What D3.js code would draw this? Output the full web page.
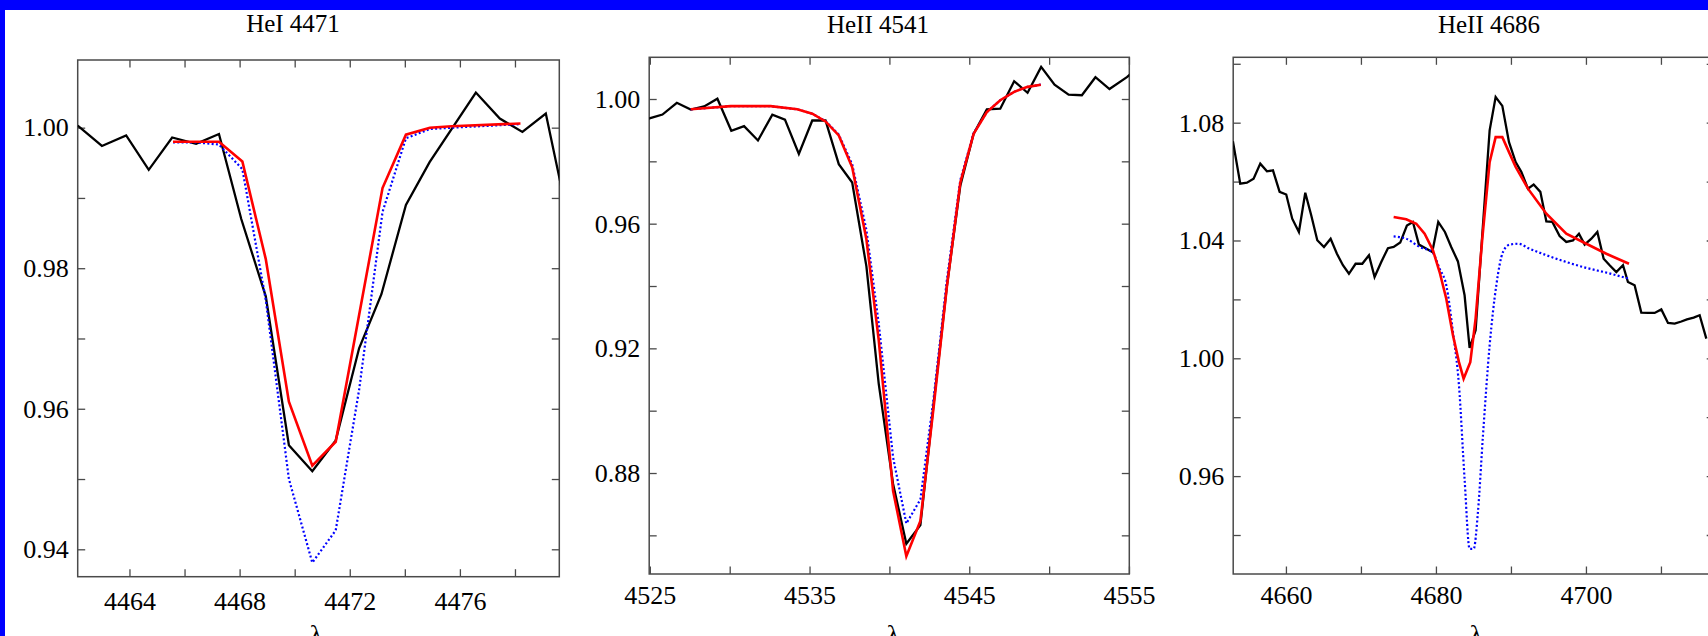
<!DOCTYPE html>
<html>
<head>
<meta charset="utf-8">
<script src="https://cdn.jsdelivr.net/npm/d3@7"></script>
<style>
  html, body { margin: 0; padding: 0; background: #0000ff; overflow: hidden; }
</style>
</head>
<body>
<div id="chart"></div>
<script>
// ---- data: [wavelength, normalised flux] ----
const titles = ['HeI 4471', 'HeII 4541', 'HeII 4686'];

const hei4471Observed = [
  [4462.12, 1.0003], [4463.00, 0.9974], [4463.88, 0.9989], [4464.70, 0.9940],
  [4465.55, 0.9986], [4466.42, 0.9977], [4467.25, 0.9991], [4468.06, 0.9870],
  [4468.95, 0.9760], [4469.79, 0.9548], [4470.64, 0.9511], [4471.49, 0.9555],
  [4472.34, 0.9686], [4473.15, 0.9763], [4474.04, 0.9890], [4474.90, 0.9951],
  [4476.58, 1.0050], [4477.45, 1.0013], [4478.27, 0.9994], [4479.12, 1.0020],
  [4479.80, 0.9894]
];
const hei4471Fit = [
  [4465.58, 0.9980], [4467.25, 0.9980], [4468.10, 0.9952], [4468.95, 0.9813],
  [4469.79, 0.9610], [4470.64, 0.9519], [4471.49, 0.9553], [4473.19, 0.9914],
  [4474.04, 0.9990], [4474.91, 1.0000], [4475.70, 1.0002], [4478.20, 1.0006]
];
const hei4471Model = [
  [4465.58, 0.9979], [4466.42, 0.9979], [4467.25, 0.9976], [4468.10, 0.9941],
  [4468.95, 0.9755], [4469.79, 0.9500], [4470.64, 0.9381], [4471.49, 0.9427],
  [4472.34, 0.9627], [4473.19, 0.9880], [4474.04, 0.9985], [4474.91, 0.9998],
  [4475.70, 1.0000], [4478.20, 1.0005]
];

const heii4541Observed = [
  [4524.92, 0.9937], [4525.79, 0.9950], [4526.69, 0.9988], [4527.56, 0.9966],
  [4528.40, 0.9976], [4529.23, 1.0001], [4530.10, 0.9898], [4530.90, 0.9913],
  [4531.77, 0.9867], [4532.67, 0.9950], [4533.46, 0.9934], [4534.33, 0.9824],
  [4535.17, 0.9931], [4536.00, 0.9931], [4536.83, 0.9791], [4537.67, 0.9732],
  [4538.56, 0.9463], [4539.33, 0.9087], [4540.23, 0.8765], [4541.06, 0.8573],
  [4541.94, 0.8633], [4542.77, 0.9023], [4543.60, 0.9400], [4544.44, 0.9722],
  [4545.27, 0.9888], [4546.10, 0.9967], [4546.94, 0.9969], [4547.81, 1.0057],
  [4548.65, 1.0020], [4549.50, 1.0103], [4550.34, 1.0046], [4551.22, 1.0014],
  [4552.05, 1.0012], [4552.90, 1.0070], [4553.78, 1.0032], [4554.87, 1.0070],
  [4555.20, 1.0085]
];
const heii4541Fit = [
  [4527.56, 0.9967], [4530.06, 0.9977], [4532.56, 0.9977], [4534.23, 0.9967],
  [4535.17, 0.9953], [4536.00, 0.9928], [4536.83, 0.9883], [4537.67, 0.9781],
  [4538.56, 0.9550], [4539.33, 0.9227], [4540.23, 0.8743], [4541.06, 0.8533],
  [4541.94, 0.8646], [4542.77, 0.9012], [4543.60, 0.9399], [4544.44, 0.9732],
  [4545.27, 0.9888], [4546.10, 0.9958], [4546.94, 0.9996], [4547.81, 1.0023],
  [4548.65, 1.0039], [4549.48, 1.0046]
];
const heii4541Model = [
  [4527.56, 0.9967], [4530.06, 0.9977], [4532.56, 0.9977], [4534.23, 0.9967],
  [4535.17, 0.9953], [4536.00, 0.9929], [4536.83, 0.9886], [4537.67, 0.9790],
  [4538.56, 0.9580], [4539.33, 0.9280], [4540.23, 0.8850], [4541.06, 0.8638],
  [4541.94, 0.8715], [4542.77, 0.9040], [4543.60, 0.9420], [4544.44, 0.9740],
  [4545.27, 0.9890], [4546.10, 0.9958], [4546.94, 0.9996], [4547.81, 1.0023],
  [4548.65, 1.0039], [4549.48, 1.0046]
];

const heii4686Observed = [
  [4652.93, 1.0737], [4653.91, 1.0593], [4654.80, 1.0596], [4655.69, 1.0610],
  [4656.58, 1.0661], [4657.47, 1.0635], [4658.27, 1.0638], [4659.16, 1.0565],
  [4660.04, 1.0556], [4660.84, 1.0474], [4661.73, 1.0429], [4662.58, 1.0562],
  [4663.38, 1.0485], [4664.18, 1.0401], [4665.07, 1.0378], [4665.96, 1.0406],
  [4666.80, 1.0355], [4667.60, 1.0316], [4668.40, 1.0287], [4669.29, 1.0321],
  [4670.18, 1.0321], [4671.07, 1.0350], [4671.82, 1.0276], [4672.71, 1.0327],
  [4673.60, 1.0374], [4674.36, 1.0378], [4675.24, 1.0393], [4676.13, 1.0451],
  [4676.93, 1.0463], [4677.73, 1.0386], [4678.62, 1.0374], [4679.51, 1.0361],
  [4680.31, 1.0463], [4681.20, 1.0429], [4682.04, 1.0378], [4682.93, 1.0329],
  [4683.82, 1.0214], [4684.49, 1.0035], [4685.29, 1.0095], [4686.18, 1.0420],
  [4687.16, 1.0774], [4687.96, 1.0887], [4688.85, 1.0857], [4689.74, 1.0734],
  [4690.63, 1.0666], [4691.38, 1.0633], [4692.27, 1.0576], [4693.03, 1.0590],
  [4693.92, 1.0565], [4694.72, 1.0465], [4695.52, 1.0463], [4696.49, 1.0415],
  [4697.38, 1.0395], [4698.27, 1.0400], [4699.07, 1.0423], [4699.83, 1.0386],
  [4700.72, 1.0406], [4701.52, 1.0429], [4702.36, 1.0338], [4703.16, 1.0316],
  [4704.05, 1.0293], [4704.94, 1.0316], [4705.60, 1.0259], [4706.49, 1.0248],
  [4707.38, 1.0155], [4708.27, 1.0154], [4709.16, 1.0154], [4710.05, 1.0166],
  [4710.94, 1.0120], [4711.83, 1.0118], [4712.72, 1.0125], [4713.47, 1.0132],
  [4714.36, 1.0138], [4715.16, 1.0146], [4716.05, 1.0067]
];
const heii4686Fit = [
  [4674.36, 1.0480], [4676.04, 1.0472], [4677.38, 1.0457], [4678.49, 1.0423],
  [4679.60, 1.0367], [4680.49, 1.0293], [4681.38, 1.0202], [4682.27, 1.0078],
  [4683.07, 0.9987], [4683.69, 0.9931], [4684.58, 0.9987], [4685.29, 1.0135],
  [4686.18, 1.0406], [4687.16, 1.0666], [4687.96, 1.0751], [4688.85, 1.0751],
  [4689.74, 1.0700], [4690.63, 1.0650], [4692.27, 1.0576], [4694.72, 1.0491],
  [4697.38, 1.0423], [4700.05, 1.0389], [4702.72, 1.0355], [4705.74, 1.0321]
];
const heii4686Model = [
  [4674.36, 1.0414], [4676.04, 1.0406], [4677.82, 1.0378], [4679.51, 1.0361],
  [4680.49, 1.0304], [4681.38, 1.0248], [4682.27, 1.0089], [4683.07, 0.9908],
  [4683.82, 0.9590], [4684.49, 0.9353], [4685.03, 0.9353], [4685.60, 0.9478],
  [4686.27, 0.9738], [4687.16, 1.0044], [4688.05, 1.0248], [4688.94, 1.0361],
  [4689.83, 1.0386], [4690.94, 1.0389], [4692.49, 1.0372], [4694.72, 1.0350],
  [4697.38, 1.0327], [4700.05, 1.0307], [4702.72, 1.0291], [4705.74, 1.0270]
];

// tick values
const hei4471XMajor = [4464, 4468, 4472, 4476];
const hei4471XMinor = [4466, 4470, 4474, 4478];
const hei4471YMajor = [0.94, 0.96, 0.98, 1.00];
const hei4471YMinor = [0.95, 0.97, 0.99];

const heii4541XMajor = [4525, 4535, 4545, 4555];
const heii4541XMinor = [4530, 4540, 4550];
const heii4541YMajor = [0.88, 0.92, 0.96, 1.00];
const heii4541YMinor = [0.86, 0.90, 0.94, 0.98];

const heii4686XMajor = [4660, 4680, 4700];
const heii4686XMinor = [4670, 4690, 4710];
const heii4686YMajor = [0.96, 1.00, 1.04, 1.08];
const heii4686YMinor = [0.94, 0.98, 1.02, 1.06, 1.10];

// ---- layout ----
const WIDTH = 1708;
const HEIGHT = 636;
const SERIF = '"Liberation Serif", "Times New Roman", Times, serif';
const TICK = 7.5;
const FRAME_COLOR = '#4a4a4a';

const panels = [
  { title: titles[0], titleX: 293, titleY: 32,
    left: 77.7, top: 60, width: 481.6, height: 516.7,
    xDomain: [4462.12, 4479.61], yDomain: [0.9361, 1.00963],
    xMajor: hei4471XMajor, xMinor: hei4471XMinor, yMajor: hei4471YMajor, yMinor: hei4471YMinor,
    labelBaseline: 33.3, lambdaX: 316, curve: d3.curveLinear,
    observed: hei4471Observed, fit: hei4471Fit, model: hei4471Model },
  { title: titles[1], titleX: 878, titleY: 33,
    left: 649.2, top: 57.3, width: 480.1, height: 516.7,
    xDomain: [4524.96, 4555.02], yDomain: [0.8476, 1.01338],
    xMajor: heii4541XMajor, xMinor: heii4541XMinor, yMajor: heii4541YMajor, yMinor: heii4541YMinor,
    labelBaseline: 30, lambdaX: 893, curve: d3.curveLinear,
    observed: heii4541Observed, fit: heii4541Fit, model: heii4541Model },
  { title: titles[2], titleX: 1489, titleY: 33,
    left: 1233.2, top: 57.3, width: 481, height: 516.7,
    xDomain: [4652.97, 4717.1], yDomain: [0.92676, 1.1022],
    xMajor: heii4686XMajor, xMinor: heii4686XMinor, yMajor: heii4686YMajor, yMinor: heii4686YMinor,
    labelBaseline: 30, lambdaX: 1476, curve: d3.curveMonotoneX,
    observed: heii4686Observed, fit: heii4686Fit, model: heii4686Model }
];

const svg = d3.select('#chart')
  .append('svg')
    .attr('width', WIDTH)
    .attr('height', HEIGHT);

svg.append('rect').attr('width', WIDTH).attr('height', HEIGHT).attr('fill', '#0000ff');
svg.append('rect').attr('x', 5).attr('y', 10)
   .attr('width', WIDTH - 5).attr('height', HEIGHT - 10).attr('fill', '#ffffff');

const defs = svg.append('defs');

const styleAxis = g => {
  g.select('.domain').remove();
  g.attr('font-family', SERIF).attr('font-size', 26);
  g.selectAll('.tick line').attr('stroke', FRAME_COLOR).attr('stroke-width', 1.3);
  g.selectAll('.tick text').attr('fill', '#000');
};

panels.forEach((p, i) => {
  const x = d3.scaleLinear().domain(p.xDomain).range([0, p.width]);
  const y = d3.scaleLinear().domain(p.yDomain).range([p.height, 0]);

  const g = svg.append('g').attr('transform', `translate(${p.left}, ${p.top})`);

  defs.append('clipPath').attr('id', `clip${i}`)
    .append('rect').attr('width', p.width).attr('height', p.height);

  const allX = p.xMajor.concat(p.xMinor);
  const allY = p.yMajor.concat(p.yMinor);

  // bottom: labelled majors + minors
  g.append('g').attr('transform', `translate(0, ${p.height})`)
    .call(d3.axisBottom(x).tickValues(p.xMajor).tickSize(-TICK)
      .tickPadding(p.labelBaseline - 26 * 0.71).tickFormat(d3.format('d')))
    .call(styleAxis);
  g.append('g').attr('transform', `translate(0, ${p.height})`)
    .call(d3.axisBottom(x).tickValues(p.xMinor).tickSize(-TICK).tickFormat(''))
    .call(styleAxis);
  // top mirror
  g.append('g')
    .call(d3.axisTop(x).tickValues(allX).tickSize(-TICK).tickFormat(''))
    .call(styleAxis);
  // left: labelled majors + minors
  g.append('g')
    .call(d3.axisLeft(y).tickValues(p.yMajor).tickSize(-TICK)
      .tickPadding(9).tickFormat(d3.format('.2f')))
    .call(styleAxis);
  g.append('g')
    .call(d3.axisLeft(y).tickValues(p.yMinor).tickSize(-TICK).tickFormat(''))
    .call(styleAxis);
  // right mirror
  g.append('g').attr('transform', `translate(${p.width}, 0)`)
    .call(d3.axisRight(y).tickValues(allY).tickSize(-TICK).tickFormat(''))
    .call(styleAxis);

  g.append('rect')
    .attr('width', p.width).attr('height', p.height)
    .attr('fill', 'none').attr('stroke', FRAME_COLOR).attr('stroke-width', 1.5);

  const line = d3.line().x(d => x(d[0])).y(d => y(d[1]));
  const plot = g.append('g').attr('clip-path', `url(#clip${i})`);

  plot.append('path').datum(p.observed)
    .attr('d', line.curve(d3.curveLinear))
    .attr('fill', 'none').attr('stroke', '#000').attr('stroke-width', 2.3)
    .attr('stroke-linejoin', 'miter');

  plot.append('path').datum(p.model)
    .attr('d', line.curve(p.curve))
    .attr('fill', 'none').attr('stroke', '#0000ff').attr('stroke-width', 2.2)
    .attr('stroke-dasharray', '2,2.3');

  plot.append('path').datum(p.fit)
    .attr('d', line.curve(d3.curveLinear))
    .attr('fill', 'none').attr('stroke', '#ff0000').attr('stroke-width', 2.6);

  svg.append('text')
    .attr('x', p.titleX).attr('y', p.titleY)
    .attr('text-anchor', 'middle')
    .attr('font-family', SERIF).attr('font-size', 25)
    .text(p.title);

  // axis label: the reference shows only the top of the glyph at the bottom edge
  svg.append('text')
    .attr('x', p.lambdaX).attr('y', 643)
    .attr('text-anchor', 'middle')
    .attr('font-family', SERIF).attr('font-size', 26)
    .text('λ');
});
</script>
</body>
</html>
